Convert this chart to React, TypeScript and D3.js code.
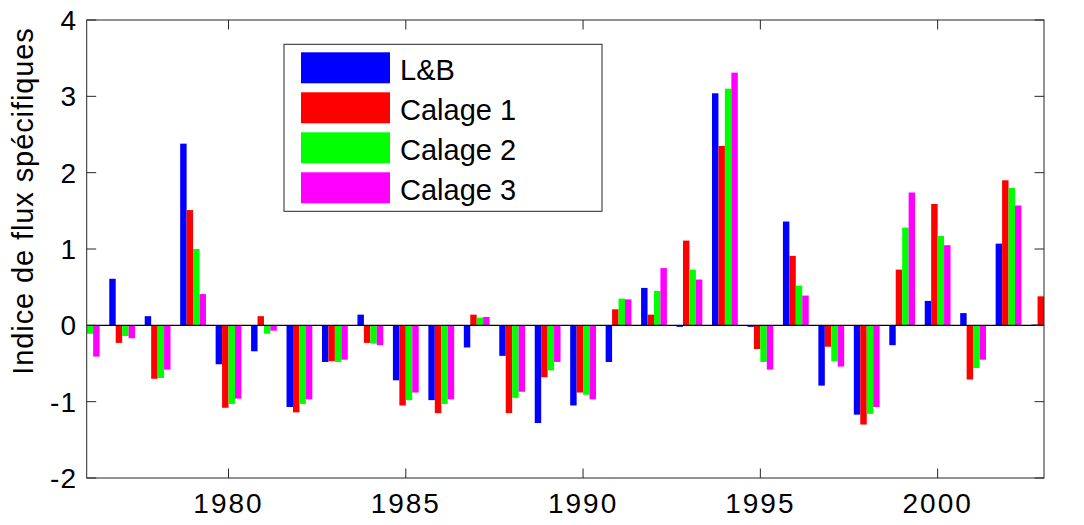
import React from "react";
import * as d3 from "d3";

const years = [1976,1977,1978,1979,1980,1981,1982,1983,1984,1985,1986,1987,1988,1989,1990,1991,1992,1993,1994,1995,1996,1997,1998,1999,2000,2001,2002,2003];
const seriesNames = ["L&B", "Calage 1", "Calage 2", "Calage 3"];
const seriesColors = ["#0000ff", "#ff0000", "#00ff00", "#ff00ff"];
const lbValues = [0, 0.61, 0.12, 2.38, -0.51, -0.34, -1.07, -0.48, 0.14, -0.72, -0.98, -0.29, -0.40, -1.28, -1.05, -0.48, 0.49, -0.02, 3.04, -0.02, 1.36, -0.79, -1.17, -0.26, 0.32, 0.16, 1.07, 0.01];
const calage1Values = [0, -0.23, -0.70, 1.51, -1.08, 0.12, -1.14, -0.47, -0.23, -1.05, -1.15, 0.14, -1.15, -0.68, -0.88, 0.21, 0.14, 1.11, 2.35, -0.31, 0.91, -0.28, -1.30, 0.73, 1.59, -0.71, 1.90, 0.38];
const calage2Values = [-0.11, -0.14, -0.69, 1.00, -1.03, -0.11, -1.03, -0.48, -0.24, -0.98, -1.03, 0.10, -0.95, -0.59, -0.91, 0.35, 0.45, 0.73, 3.10, -0.48, 0.52, -0.47, -1.16, 1.28, 1.17, -0.56, 1.80, 0];
const calage3Values = [-0.41, -0.17, -0.58, 0.41, -0.96, -0.07, -0.97, -0.45, -0.26, -0.88, -0.97, 0.11, -0.87, -0.48, -0.97, 0.34, 0.75, 0.60, 3.31, -0.58, 0.39, -0.54, -1.07, 1.74, 1.05, -0.45, 1.57, 0];
const xTicks = [1980, 1985, 1990, 1995, 2000];
const yTicks = [-2, -1, 0, 1, 2, 3, 4];
const yLabel = "Indice de flux spécifiques";

const allSeries = [lbValues, calage1Values, calage2Values, calage3Values];

export default function App() {
  const W = 1084, H = 525;
  const left = 86.7, right = 1044, top = 20, bottom = 478;
  const x = d3.scaleLinear().domain([1976, 2003]).range([left, right]);
  const y = d3.scaleLinear().domain([-2, 4]).range([bottom, top]);
  const n = seriesNames.length;
  const groupW = Math.min(0.8, n / (n + 1.5));
  const barW = groupW / n;
  const font = "'Liberation Sans', Arial, Helvetica, sans-serif";
  const axisColor = "#262626";
  const tickLen = 9.5;

  const legX = 284, legY = 44.3, legW = 318, legH = 167;

  return (
    <svg width={W} height={H} style={{ position: "absolute", left: 0, top: 0, background: "#fff" }}>
      <defs>
        <clipPath id="plotclip">
          <rect x={left} y={top} width={right - left} height={bottom - top} />
        </clipPath>
      </defs>
      <rect x={0} y={0} width={W} height={H} fill="#fff" />
      <g clipPath="url(#plotclip)">
        {allSeries.map((vals, si) =>
          vals.map((v, i) => {
            const x0 = years[i] - groupW / 2 + si * barW;
            const px0 = x(x0), px1 = x(x0 + barW);
            const y0 = y(0), y1 = y(v);
            return (
              <rect
                key={`${si}-${i}`}
                x={px0}
                y={Math.min(y0, y1)}
                width={px1 - px0}
                height={Math.abs(y1 - y0)}
                fill={seriesColors[si]}
              />
            );
          })
        )}
        <line x1={left} x2={right} y1={y(0)} y2={y(0)} stroke="#000" strokeWidth={1.2} />
      </g>
      {/* axes box */}
      <rect x={left} y={top} width={right - left} height={bottom - top} fill="none" stroke={axisColor} strokeWidth={1} />
      {/* x ticks */}
      {xTicks.map((t) => (
        <g key={`xt${t}`}>
          <line x1={x(t)} x2={x(t)} y1={bottom} y2={bottom - tickLen} stroke={axisColor} />
          <line x1={x(t)} x2={x(t)} y1={top} y2={top + tickLen} stroke={axisColor} />
          <text x={x(t)} y={513} textAnchor="middle" fontFamily={font} fontSize={28} letterSpacing={2} fill="#000">
            {t}
          </text>
        </g>
      ))}
      {/* y ticks */}
      {yTicks.map((t) => (
        <g key={`yt${t}`}>
          <line x1={left} x2={left + tickLen} y1={y(t)} y2={y(t)} stroke={axisColor} />
          <line x1={right} x2={right - tickLen} y1={y(t)} y2={y(t)} stroke={axisColor} />
          <text x={77} y={y(t) + 10} textAnchor="end" fontFamily={font} fontSize={28} letterSpacing={1} fill="#000">
            {t}
          </text>
        </g>
      ))}
      {/* y label */}
      <text
        transform={`translate(33, 201) rotate(-90)`}
        textAnchor="middle"
        fontFamily={font}
        fontSize={29}
        letterSpacing={0.9}
        fill="#000"
      >
        {yLabel}
      </text>
      {/* legend */}
      <rect x={legX} y={legY} width={legW} height={legH} fill="#fff" stroke={axisColor} strokeWidth={1} />
      {seriesNames.map((name, i) => {
        const cy = 67.8 + i * 40;
        return (
          <g key={name}>
            <rect x={301} y={cy - 15.5} width={89} height={31} fill={seriesColors[i]} />
            <text x={400} y={cy + 12} fontFamily={font} fontSize={29} fill="#000">
              {name}
            </text>
          </g>
        );
      })}
    </svg>
  );
}
